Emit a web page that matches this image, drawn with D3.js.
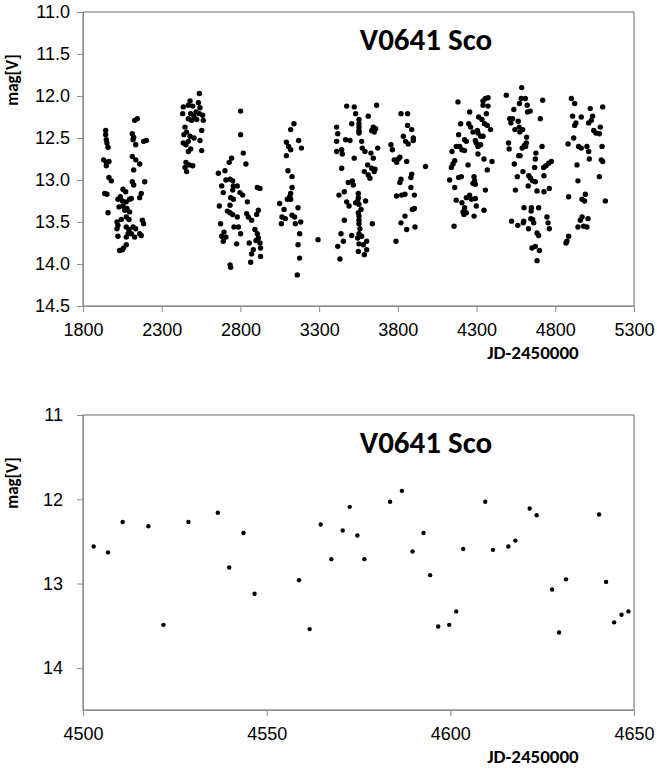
<!DOCTYPE html>
<html>
<head>
<meta charset="utf-8">
<script src="https://cdn.jsdelivr.net/npm/d3@7"></script>
<style>
  body { margin: 0; background: #fff; }
  svg { display: block; font-family: Carlito, "Open Sans", sans-serif; }
  .axis path, .axis line { stroke: #8c8c8c; }
  .axis text { font-size: 18px; fill: #000; }
</style>
</head>
<body>
<script>
// star name and axis captions
var starName = "V0641 Sco";
var yCaption = "mag[V]";
var xCaption = "JD-2450000";

// tick values
var topXTicks = [1800, 2300, 2800, 3300, 3800, 4300, 4800, 5300];
var topYTicks = [11.0, 11.5, 12.0, 12.5, 13.0, 13.5, 14.0, 14.5];
var zoomXTicks = [4500, 4550, 4600, 4650];
var zoomYTicks = [11, 12, 13, 14];

// season JD 2450000+ 1900..2250
var season1 = [[1944,12.41],[1944,12.46],[1948,12.52],[1952,12.56],[1959,12.61],[1931,12.76],[1948,12.79],[1965,12.78],[1948,12.83],[1965,12.97],[1980,13.01],[1938,13.16],[1952,13.17],[1959,13.39],
  [2128,12.29],[2145,12.27],[2113,12.45],[2122,12.49],[2118,12.52],[2135,12.58],[2185,12.54],[2202,12.53],[2113,12.72],[2135,12.76],[2160,12.81],[2122,12.88],[2113,13.02],[2122,13.06],[2192,13.02],[2170,13.16],[2160,13.21],
  [2054,13.11],[2071,13.14],[2037,13.20],[2022,13.23],[2050,13.25],[2075,13.26],[2096,13.23],[2107,13.22],[2029,13.32],[2054,13.31],[2079,13.34],[2096,13.38],[2065,13.36],[2075,13.44],[2092,13.47],[2043,13.47],[2016,13.50],[2022,13.54],[2016,13.58],[2022,13.67],[2075,13.56],[2092,13.59],[2118,13.56],[2135,13.58],[2177,13.48],[2185,13.52],[2086,13.64],[2107,13.64],[2128,13.68],[2160,13.64],[2170,13.66],[2075,13.68],[2075,13.77],[2058,13.81],[2033,13.84],[2050,13.83]];

// seasons 2400..2950
var season2 = [[2539,11.97],[2480,12.06],[2437,12.13],[2433,12.21],[2469,12.11],[2497,12.12],[2533,12.08],[2543,12.14],[2518,12.19],[2484,12.21],[2505,12.24],[2539,12.21],[2560,12.23],[2564,12.29],[2469,12.27],[2490,12.29],[2522,12.28],
  [2448,12.37],[2458,12.43],[2441,12.46],[2480,12.48],[2505,12.50],[2554,12.41],[2543,12.53],[2469,12.54],[2437,12.56],[2454,12.58],[2484,12.63],[2469,12.66],[2554,12.65],[2454,12.79],[2475,12.82],[2497,12.83],[2448,12.85],[2458,12.90],
  [2801,12.18],[2801,12.46],[2818,12.68],[2835,12.81],[2744,12.74],[2729,12.79],[2660,12.92],[2702,12.89],[2708,13.00],[2734,12.99],[2751,13.01],[2681,13.07],[2755,13.07],[2780,13.07],[2691,13.15],[2751,13.12],[2797,13.15],[2814,13.18],[2907,13.09],[2924,13.10],
  [2738,13.21],[2755,13.23],[2666,13.31],[2734,13.30],[2844,13.26],[2717,13.37],[2734,13.39],[2751,13.41],[2780,13.44],[2840,13.40],[2850,13.44],[2914,13.36],[2903,13.41],[2871,13.48],
  [2674,13.52],[2759,13.56],[2787,13.56],[2696,13.62],[2801,13.64],[2892,13.59],[2681,13.67],[2708,13.68],[2691,13.73],[2776,13.76],[2856,13.75],[2907,13.64],[2914,13.69],[2899,13.72],[2924,13.75],
  [2882,13.83],[2871,13.88],[2928,13.81],[2928,13.91],[2865,13.98],[2734,14.01],[2738,14.04]];

// seasons 3040..3300
var season3 = [[3140,12.33],[3119,12.40],[3092,12.55],[3170,12.53],[3106,12.60],[3119,12.64],[3187,12.62],[3092,12.71],[3102,12.89],[3128,12.96],[3128,13.09],[3119,13.16],[3113,13.20],[3098,13.23],[3119,13.23],[3049,13.28],[3077,13.35],[3166,13.33],[3064,13.44],[3085,13.46],[3060,13.52],[3128,13.42],[3144,13.44],[3149,13.52],[3183,13.50],[3176,13.64],[3166,13.77],[3176,13.93],[3161,14.13],[3293,13.71]];

// seasons 3400..3980
var season4 = [[3411,12.37],[3418,12.45],[3411,12.54],[3411,12.66],[3443,12.64],[3447,12.69],[3443,12.86],[3426,13.18],[3460,13.14],[3460,13.48],[3439,13.64],[3454,13.73],[3418,13.79],[3432,13.94],
  [3475,12.12],[3523,12.13],[3532,12.21],[3507,12.33],[3468,12.52],[3496,12.53],[3523,12.74],[3485,13.03],[3511,13.01],[3517,13.06],[3475,13.26],[3490,13.31],[3507,13.66],
  [3553,12.28],[3553,12.33],[3553,12.37],[3553,12.41],[3553,12.44],[3570,12.54],[3574,12.62],[3591,12.66],[3549,13.16],[3549,13.21],[3545,13.25],[3532,13.27],[3553,13.29],[3566,13.35],[3549,13.39],[3553,13.43],[3553,13.48],[3553,13.52],[3559,13.58],[3553,13.64],[3570,13.67],[3545,13.69],[3553,13.76],[3581,13.77],[3549,13.85],[3587,13.89],[3602,13.83],[3602,13.73],[3595,13.25],
  [3612,12.24],[3665,12.11],[3644,12.37],[3659,12.39],[3650,12.43],[3634,12.41],[3629,12.68],[3644,12.74],[3672,12.62],[3608,12.82],[3587,12.90],[3634,12.86],[3655,12.87],[3650,12.90],[3612,12.94],[3623,12.98],[3638,13.52],
  [3820,12.21],[3862,12.21],[3862,12.35],[3888,12.40],[3835,12.48],[3849,12.54],[3866,12.57],[3898,12.50],[3898,12.53],[3756,12.58],[3765,12.64],[3777,12.76],[3803,12.75],[3792,12.79],[3813,12.73],[3856,12.78],[3976,12.84],[3820,12.99],[3813,13.03],[3888,12.93],[3883,12.97],[3883,13.09],[3792,13.19],[3824,13.18],[3845,13.17],[3905,13.18],[3892,13.35],[3905,13.34],[3845,13.43],[3820,13.51],[3909,13.56],[3856,13.59],[3788,13.73]];

// seasons 4120..4400
var season5 = [[4182,12.07],[4256,12.19],[4199,12.33],[4250,12.33],[4262,12.37],[4277,12.43],[4186,12.46],[4224,12.52],[4235,12.54],[4305,12.41],[4309,12.44],[4292,12.53],[4298,12.56],[4326,12.48],[4341,12.48],[4351,12.33],[4334,12.28],[4368,12.35],[4389,12.40],[4341,12.06],[4356,12.03],[4373,12.02],[4341,12.11],[4373,12.12],[4362,12.21],[4313,12.25],[4326,12.58],[4309,12.60],
  [4171,12.60],[4193,12.60],[4207,12.64],[4224,12.65],[4144,12.66],[4161,12.77],[4150,12.81],[4140,12.85],[4246,12.82],[4309,12.69],[4347,12.75],[4398,12.78],[4368,12.88],
  [4129,13.00],[4186,12.97],[4203,12.96],[4161,13.09],[4284,12.96],[4288,13.01],[4277,13.04],[4292,13.05],[4356,13.12],
  [4171,13.24],[4207,13.27],[4235,13.21],[4256,13.18],[4267,13.23],[4292,13.22],[4224,13.33],[4214,13.38],[4220,13.41],[4235,13.39],[4284,13.43],[4298,13.31],[4347,13.36],[4157,13.55]];

// season 4480..4790, outside the zoomed window
var season6 = [[4489,11.99],[4720,12.05],[4705,12.27],[4716,12.60],[4677,12.68],[4673,12.75],[4669,12.85],[4726,12.85],[4741,12.83],[4758,12.80],[4775,12.78],[4728,12.95],[4656,13.01],[4673,13.02],[4684,13.13],[4728,13.14],[4762,13.10],[4694,13.33],[4656,13.47],[4663,13.51],[4747,13.44],[4754,13.51],[4762,13.58],[4684,13.63],[4694,13.66],[4652,13.81],[4673,13.79],[4699,13.84],[4684,13.96]];

// seasons 4860..5120
var season7 = [[4902,12.03],[4923,12.09],[5022,12.15],[5101,12.13],[4910,12.24],[4965,12.25],[4931,12.32],[4923,12.35],[5012,12.32],[5029,12.29],[5037,12.24],[5044,12.41],[5058,12.44],[5086,12.37],[5080,12.45],[4917,12.50],[4881,12.57],[4948,12.60],[4965,12.62],[5001,12.60],[5012,12.66],[5097,12.60],[5016,12.75],[5092,12.76],[5101,12.78],[4938,12.82],[5080,12.96],[4944,13.01],[4885,13.20],[4970,13.23],[4986,13.25],[4991,13.17],[5118,13.25],[4970,13.44],[4959,13.48],[4980,13.55],[5001,13.56],[4944,13.56],[5008,13.46],[4885,13.67],[4874,13.73],[4868,13.75]];

// zoomed window 4500..4650 (also part of the full light curve)
var zoomJD  = [4502.9,4506.8,4510.8,4517.8,4521.9,4528.7,4536.7,4539.8,4543.7,4546.7,4558.8,4561.7,4564.7,4567.6,4570.7,4572.6,4574.7,4576.6,4583.6,4586.8,4589.7,4592.7,4594.5,4596.7,4599.7,4601.6,4603.5,4609.5,4611.6,4615.8,4617.7,4621.6,4623.5,4627.7,4629.6,4631.5,4640.5,4642.4,4644.6,4646.6,4648.5];
var zoomMag = [12.56,12.63,12.27,12.32,13.49,12.27,12.16,12.81,12.40,13.12,12.96,13.54,12.30,12.71,12.37,12.09,12.43,12.71,12.03,11.90,12.62,12.40,12.90,13.51,13.49,13.33,12.59,12.03,12.60,12.56,12.49,12.11,12.19,13.07,13.58,12.95,12.18,12.98,13.46,13.37,13.33];

var zoomPoints = zoomJD.map(function(d, i) { return [d, zoomMag[i]]; });
var allPoints = [].concat(season1, season2, season3, season4, season5, season6, zoomPoints, season7);

var svg = d3.select("body").append("svg")
    .attr("width", 657)
    .attr("height", 770);

function drawPanel(cfg) {
    var x = d3.scaleLinear().domain(cfg.xDomain).range([cfg.left, cfg.right]);
    var y = d3.scaleLinear().domain([11, 14.5]).range([cfg.top, cfg.bottom]);

    var g = svg.append("g");

    // plot area border
    g.append("rect")
        .attr("x", cfg.left)
        .attr("y", cfg.top)
        .attr("width", cfg.right - cfg.left)
        .attr("height", cfg.bottom - cfg.top)
        .attr("fill", "none")
        .attr("stroke", "#6b6b6b")
        .attr("stroke-width", 1);

    var xAxis = d3.axisBottom(x).tickValues(cfg.xTicks).tickFormat(d3.format("d"))
        .tickSizeInner(6).tickSizeOuter(0).tickPadding(11);
    var yAxis = d3.axisLeft(y).tickValues(cfg.yTicks).tickFormat(cfg.yFormat)
        .tickSizeInner(6).tickSizeOuter(0).tickPadding(cfg.yPad);

    g.append("g")
        .attr("class", "axis")
        .attr("transform", "translate(0," + cfg.bottom + ")")
        .call(xAxis);

    g.append("g")
        .attr("class", "axis")
        .attr("transform", "translate(" + cfg.left + ",0)")
        .call(yAxis);

    g.selectAll(".dot")
        .data(cfg.points)
        .enter().append("circle")
        .attr("class", "dot")
        .attr("cx", function(d) { return x(d[0]); })
        .attr("cy", function(d) { return y(d[1]); })
        .attr("r", cfg.r)
        .attr("fill", "#000");

    g.append("text")
        .attr("x", 426)
        .attr("y", cfg.top + 38)
        .attr("text-anchor", "middle")
        .style("font-size", "31px")
        .style("font-weight", "bold")
        .text(starName);

    g.append("text")
        .attr("transform", "translate(18," + (cfg.top + 68) + ") rotate(-90)")
        .attr("text-anchor", "middle")
        .style("font-size", "17px")
        .style("font-weight", "bold")
        .text(yCaption);

    g.append("text")
        .attr("x", 533)
        .attr("y", cfg.bottom + 53)
        .attr("text-anchor", "middle")
        .style("font-size", "19px")
        .style("font-weight", "bold")
        .text(xCaption);
}

drawPanel({
    points: allPoints, xDomain: [1800, 5300], xTicks: topXTicks, yTicks: topYTicks,
    yFormat: d3.format(".1f"), yPad: 7,
    left: 83, right: 634, top: 12, bottom: 306, r: 2.7
});

drawPanel({
    points: zoomPoints, xDomain: [4500, 4650], xTicks: zoomXTicks, yTicks: zoomYTicks,
    yFormat: d3.format("d"), yPad: 14,
    left: 83, right: 634, top: 415, bottom: 710, r: 2.2
});
</script>
</body>
</html>
